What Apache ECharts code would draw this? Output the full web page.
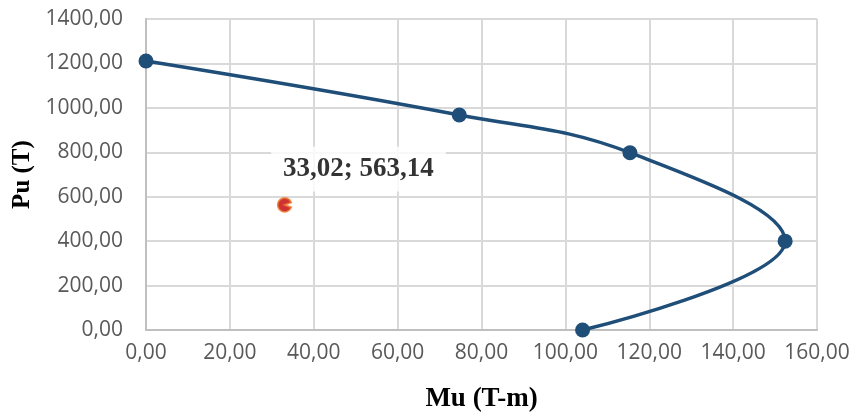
<!DOCTYPE html>
<html>
<head>
<meta charset="utf-8">
<script src="https://cdn.jsdelivr.net/npm/echarts@6/dist/echarts.min.js"></script>
<style>
  html, body { margin: 0; padding: 0; background: #fff; }
  #chart { width: 856px; height: 414px; }
</style>
</head>
<body>
<div id="chart"></div>
<script>
// Interaction diagram: moment Mu (T-m) vs axial load Pu (T)
const curveMu = [0, 74.7, 115.4, 152.4, 104.1];
const curvePu = [1211, 968, 798, 400, 0];

// Design load point
const loadMu = [33.02];
const loadPu = [563.14];

const xTicks = { min: 0, max: 160, interval: 20 };
const yTicks = { min: 0, max: 1400, interval: 200 };

const fmt = v => v.toFixed(2).replace('.', ',');

const chart = echarts.init(document.getElementById('chart'), null, { renderer: 'canvas' });

const tickFont = { fontFamily: 'Open Sans', fontSize: 21, color: '#595959' };
const serifBold = size => ({ fontFamily: 'Liberation Serif', fontWeight: 'bold', fontSize: size, color: '#000' });

chart.setOption({
  animation: false,
  grid: { left: 146, right: 39, top: 19, bottom: 84, outerBoundsMode: 'none', containLabel: false },
  xAxis: {
    type: 'value',
    min: xTicks.min, max: xTicks.max, interval: xTicks.interval,
    name: 'Mu (T-m)',
    nameLocation: 'middle',
    nameGap: 56,
    nameTextStyle: serifBold(27),
    axisLine: { show: true, lineStyle: { color: '#BFBFBF', width: 2 } },
    axisTick: { show: false },
    axisLabel: Object.assign({ margin: 13, formatter: fmt }, tickFont),
    splitLine: { show: true, lineStyle: { color: '#D9D9D9', width: 2 } }
  },
  yAxis: {
    type: 'value',
    min: yTicks.min, max: yTicks.max, interval: yTicks.interval,
    name: 'Pu (T)',
    nameLocation: 'middle',
    nameGap: 104,
    nameTextStyle: serifBold(25),
    axisLine: { show: true, lineStyle: { color: '#BFBFBF', width: 2 } },
    axisTick: { show: false },
    axisLabel: Object.assign({ margin: 23, formatter: fmt }, tickFont),
    splitLine: { show: true, lineStyle: { color: '#D9D9D9', width: 2 } }
  },
  series: [
    {
      type: 'line',
      data: curveMu.map((m, i) => [m, curvePu[i]]),
      smooth: 0.4,
      symbol: 'circle',
      symbolSize: 15,
      itemStyle: { color: '#1F4E79' },
      lineStyle: { color: '#1F4E79', width: 3.5 },
      z: 3
    },
    {
      type: 'scatter',
      data: loadMu.map((m, i) => [m, loadPu[i]]),
      symbol: 'path://M10,10 L19.4,6.6 A10,10 0 1,0 19.4,13.4 Z',
      symbolKeepAspect: true,
      symbolSize: 14,
      itemStyle: { color: '#C00000', borderColor: '#F0782C', borderWidth: 1.8 },
      label: {
        show: true,
        position: 'inside',
        offset: [74, -36],
        formatter: p => fmt(p.value[0]) + '; ' + fmt(p.value[1]),
        fontFamily: 'Liberation Serif',
        fontWeight: 'bold',
        fontSize: 27,
        color: '#000',
        backgroundColor: '#fff',
        padding: [9, 12, 9, 12]
      },
      z: 4
    }
  ]
});
</script>
</body>
</html>
